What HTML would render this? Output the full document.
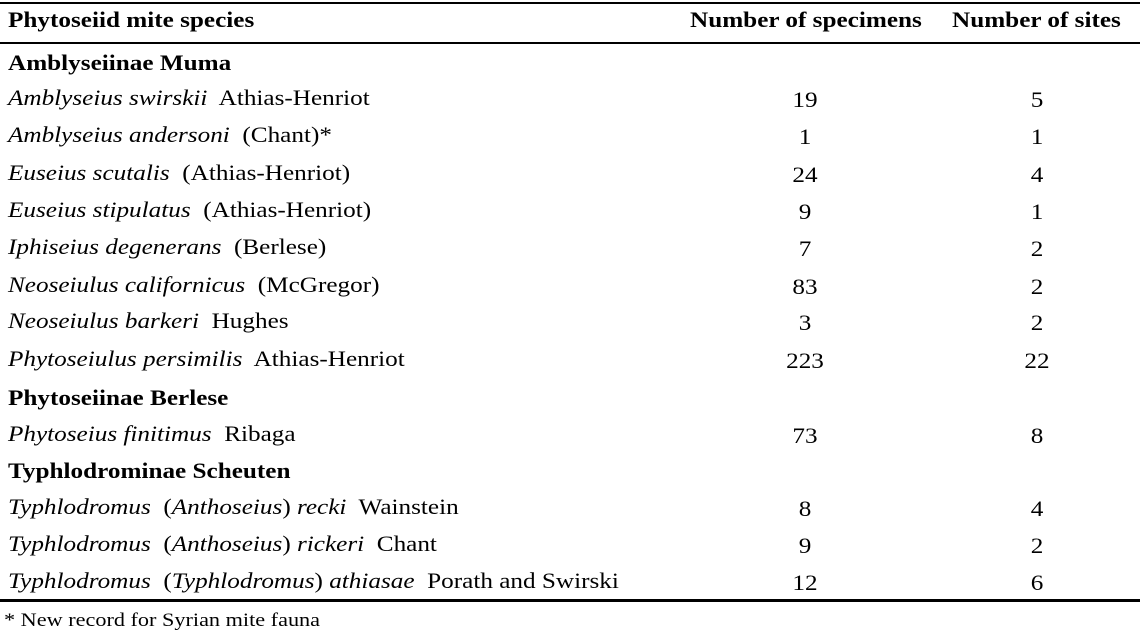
<!DOCTYPE html>
<html><head><meta charset="utf-8"><style>
body{margin:0;width:1140px;height:639px;background:#fff;position:relative;overflow:hidden;font-family:"Liberation Serif",serif;font-size:22px;color:#000}
.t{position:absolute;white-space:nowrap;line-height:24px;transform:scaleX(1.145);transform-origin:0 50%}
.c{position:absolute;width:120px;text-align:center;line-height:24px;transform:scaleX(1.145)}
.l{position:absolute;left:0;width:1140px;background:#000}
b{font-weight:bold}
</style></head><body>
<div class="l" style="top:2px;height:2px"></div>
<div class="l" style="top:42px;height:2px"></div>
<div class="l" style="top:599px;height:3px"></div>
<div class="t" style="left:8px;top:8px"><b>Phytoseiid mite species</b></div>
<div class="t" style="left:690px;top:8px"><b>Number of specimens</b></div>
<div class="t" style="left:952px;top:8px"><b>Number of sites</b></div>

<div class="t" style="left:8px;top:51px"><b>Amblyseiinae Muma</b></div>
<div class="t" style="left:8px;top:86px"><i>Amblyseius swirskii</i>&nbsp; Athias-Henriot</div>
<div class="t" style="left:8px;top:123px"><i>Amblyseius andersoni</i>&nbsp; (Chant)*</div>
<div class="t" style="left:8px;top:161px"><i>Euseius scutalis</i>&nbsp; (Athias-Henriot)</div>
<div class="t" style="left:8px;top:198px"><i>Euseius stipulatus</i>&nbsp; (Athias-Henriot)</div>
<div class="t" style="left:8px;top:235px"><i>Iphiseius degenerans</i>&nbsp; (Berlese)</div>
<div class="t" style="left:8px;top:273px"><i>Neoseiulus californicus</i>&nbsp; (McGregor)</div>
<div class="t" style="left:8px;top:309px"><i>Neoseiulus barkeri</i>&nbsp; Hughes</div>
<div class="t" style="left:8px;top:347px"><i>Phytoseiulus persimilis</i>&nbsp; Athias-Henriot</div>
<div class="t" style="left:8px;top:386px"><b>Phytoseiinae Berlese</b></div>
<div class="t" style="left:8px;top:422px"><i>Phytoseius finitimus</i>&nbsp; Ribaga</div>
<div class="t" style="left:8px;top:459px"><b>Typhlodrominae Scheuten</b></div>
<div class="t" style="left:8px;top:495px"><i>Typhlodromus</i>&nbsp; (<i>Anthoseius</i>) <i>recki</i>&nbsp; Wainstein</div>
<div class="t" style="left:8px;top:532px"><i>Typhlodromus</i>&nbsp; (<i>Anthoseius</i>) <i>rickeri</i>&nbsp; Chant</div>
<div class="t" style="left:8px;top:569px"><i>Typhlodromus</i>&nbsp; (<i>Typhlodromus</i>) <i>athiasae</i>&nbsp; Porath and Swirski</div>

<div class="c" style="left:745px;top:88px">19</div><div class="c" style="left:977px;top:88px">5</div>
<div class="c" style="left:745px;top:125px">1</div><div class="c" style="left:977px;top:125px">1</div>
<div class="c" style="left:745px;top:163px">24</div><div class="c" style="left:977px;top:163px">4</div>
<div class="c" style="left:745px;top:200px">9</div><div class="c" style="left:977px;top:200px">1</div>
<div class="c" style="left:745px;top:237px">7</div><div class="c" style="left:977px;top:237px">2</div>
<div class="c" style="left:745px;top:275px">83</div><div class="c" style="left:977px;top:275px">2</div>
<div class="c" style="left:745px;top:311px">3</div><div class="c" style="left:977px;top:311px">2</div>
<div class="c" style="left:745px;top:349px">223</div><div class="c" style="left:977px;top:349px">22</div>
<div class="c" style="left:745px;top:424px">73</div><div class="c" style="left:977px;top:424px">8</div>
<div class="c" style="left:745px;top:497px">8</div><div class="c" style="left:977px;top:497px">4</div>
<div class="c" style="left:745px;top:534px">9</div><div class="c" style="left:977px;top:534px">2</div>
<div class="c" style="left:745px;top:571px">12</div><div class="c" style="left:977px;top:571px">6</div>

<div class="t" style="left:4px;top:609px;font-size:19px;transform:scaleX(1.17)">* New record for Syrian mite fauna</div>
</body></html>
